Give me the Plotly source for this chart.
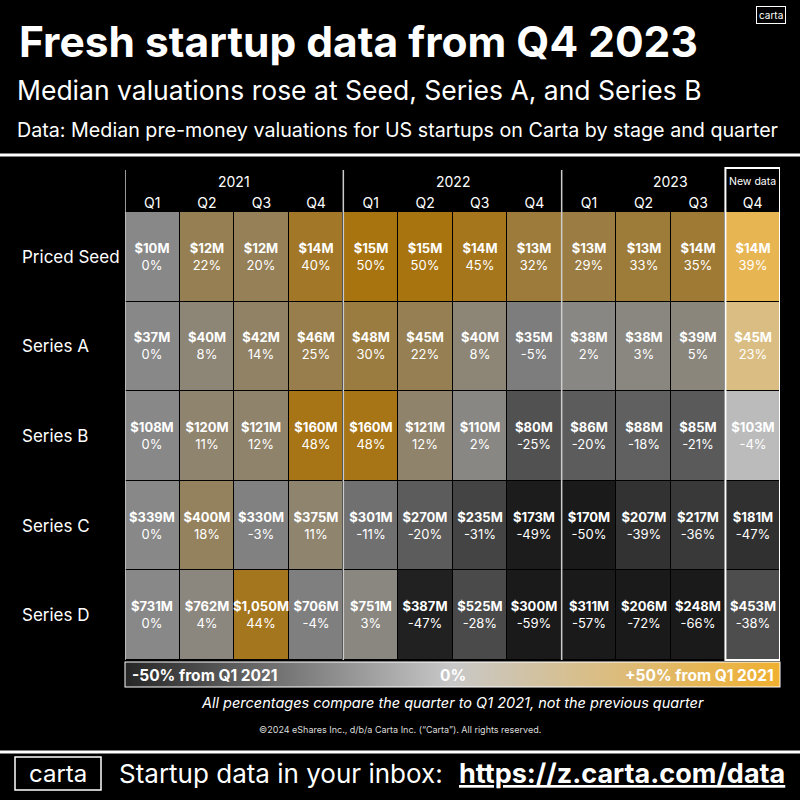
import plotly.graph_objects as go

# data
stages = ["Priced Seed", "Series A", "Series B", "Series C", "Series D"]
quarters = ["Q1", "Q2", "Q3", "Q4"] * 3
years = ["2021", "2022", "2023"]

valuations = [
    ["$10M", "$12M", "$12M", "$14M", "$15M", "$15M", "$14M", "$13M", "$13M", "$13M", "$14M", "$14M"],
    ["$37M", "$40M", "$42M", "$46M", "$48M", "$45M", "$40M", "$35M", "$38M", "$38M", "$39M", "$45M"],
    ["$108M", "$120M", "$121M", "$160M", "$160M", "$121M", "$110M", "$80M", "$86M", "$88M", "$85M", "$103M"],
    ["$339M", "$400M", "$330M", "$375M", "$301M", "$270M", "$235M", "$173M", "$170M", "$207M", "$217M", "$181M"],
    ["$731M", "$762M", "$1,050M", "$706M", "$751M", "$387M", "$525M", "$300M", "$311M", "$206M", "$248M", "$453M"],
]
pct_change = [
    [0, 22, 20, 40, 50, 50, 45, 32, 29, 33, 35, 39],
    [0, 8, 14, 25, 30, 22, 8, -5, 2, 3, 5, 23],
    [0, 11, 12, 48, 48, 12, 2, -25, -20, -18, -21, -4],
    [0, 18, -3, 11, -11, -20, -31, -49, -50, -39, -36, -47],
    [0, 4, 44, -4, 3, -47, -28, -59, -57, -72, -66, -38],
]

FONT = "Inter"
W, H = 800, 800
L, R, T, B = 125, 20, 212, 140
PW, PH = W - L - R, H - T - B


def px(p):
    return (p - L) / PW


def py(p):
    return (H - B - p) / PH


ncol = len(quarters)
cols = list(range(ncol))
rows = list(range(len(stages)))

labels = [[f"<b>{v}</b><br>{p}%" for v, p in zip(vr, pr)] for vr, pr in zip(valuations, pct_change)]

# older quarters use a dimmed scale, the newest quarter a bright one
z_old = [[p if j < ncol - 1 else None for j, p in enumerate(r)] for r in pct_change]
z_new = [[p if j == ncol - 1 else None for j, p in enumerate(r)] for r in pct_change]
t_old = [[t if j < ncol - 1 else "" for j, t in enumerate(r)] for r in labels]
t_new = [[t if j == ncol - 1 else "" for j, t in enumerate(r)] for r in labels]

dim_scale = [[0, "#1a1a1a"], [0.5, "#888888"], [1, "#a87410"]]
bright_scale = [[0, "#262626"], [0.5, "#c8c8c8"], [1, "#f0b030"]]

fig = go.Figure()
fig.add_trace(go.Heatmap(
    z=z_old, x=cols, y=rows, text=t_old, texttemplate="%{text}",
    textfont=dict(family=FONT, size=13, color="white"),
    colorscale=dim_scale, zmin=-50, zmax=50, xgap=1, ygap=1,
    showscale=False, hoverinfo="skip"))
fig.add_trace(go.Heatmap(
    z=z_new, x=cols, y=rows, text=t_new, texttemplate="%{text}",
    textfont=dict(family=FONT, size=13, color="white"),
    colorscale=bright_scale, zmin=-50, zmax=50, xgap=1, ygap=1,
    hoverinfo="skip",
    colorbar=dict(orientation="h", x=0.5, xanchor="center", y=py(662), yanchor="top",
                  yref="paper", len=1, lenmode="fraction", thickness=25, xpad=0, ypad=0,
                  outlinecolor="white", outlinewidth=1, showticklabels=False, ticks="")))

ann = []
# header texts
ann.append(dict(x=px(17), y=py(42), text="<b>Fresh startup data from Q4 2023</b>", xanchor="left",
                font=dict(size=42.5, color="white")))
ann.append(dict(x=px(15), y=py(90), text="Median valuations rose at Seed, Series A, and Series B",
                xanchor="left", font=dict(size=26.5, color="white")))
ann.append(dict(x=px(15), y=py(130),
                text="Data: Median pre-money valuations for US startups on Carta by stage and quarter",
                xanchor="left", font=dict(size=19.7, color="white")))
ann.append(dict(x=px(771), y=py(15), text="carta", font=dict(size=10, color="white"),
                bordercolor="white", borderwidth=1, borderpad=2))

# years over the quarter columns
for k, yr in enumerate(years):
    ann.append(dict(x=k * 4 + 1.5, xref="x", y=py(182), text=yr, font=dict(size=14, color="white")))
ann.append(dict(x=ncol - 1, xref="x", y=py(182), text="New data", font=dict(size=10.5, color="white")))

# stage names on the left
for i, s in enumerate(stages):
    ann.append(dict(x=px(20), y=i, yref="y", text=s, xanchor="left", font=dict(size=17, color="white")))

# colour bar labels
ann.append(dict(x=px(130), y=py(675), text="<b>-50% from Q1 2021</b>", xanchor="left",
                font=dict(size=15.5, color="white")))
ann.append(dict(x=px(453), y=py(675), text="<b>0%</b>", font=dict(size=15.5, color="white")))
ann.append(dict(x=px(776), y=py(675), text="<b>+50% from Q1 2021</b>", xanchor="right",
                font=dict(size=15.5, color="white")))

ann.append(dict(x=px(452), y=py(703),
                text="<i>All percentages compare the quarter to Q1 2021, not the previous quarter</i>",
                font=dict(size=14.5, color="white")))
ann.append(dict(x=px(400), y=py(729),
                text="©2024 eShares Inc., d/b/a Carta Inc. (“Carta”). All rights reserved.",
                font=dict(size=9, color="#dddddd")))

# footer
ann.append(dict(x=px(58), y=py(773), text="carta", font=dict(size=24, color="white")))
ann.append(dict(x=px(117), y=py(773), text="Startup data in your inbox:", xanchor="left",
                font=dict(size=26, color="white")))
ann.append(dict(x=px(787), y=py(773), text="<b><u>https://z.carta.com/data</u></b>", xanchor="right",
                font=dict(size=27, color="white")))

for a in ann:
    a.setdefault("xref", "paper")
    a.setdefault("yref", "paper")
    a.setdefault("xanchor", "center")
    a.setdefault("yanchor", "middle")
    a["showarrow"] = False
    a["font"]["family"] = FONT

shapes = [
    dict(type="line", xref="paper", yref="paper", x0=px(0), x1=px(800), y0=py(155), y1=py(155),
         line=dict(color="white", width=3)),
    dict(type="line", xref="paper", yref="paper", x0=px(0), x1=px(800), y0=py(752), y1=py(752),
         line=dict(color="white", width=3)),
    dict(type="rect", xref="paper", yref="paper", x0=px(15), x1=px(101), y0=py(757), y1=py(790),
         line=dict(color="white", width=1.5)),
]
for xv in [-0.5, 3.5, 7.5]:
    shapes.append(dict(type="line", xref="x", yref="paper", x0=xv, x1=xv, y0=0, y1=py(170),
                       line=dict(color="#cccccc", width=1.5)))
shapes.append(dict(type="rect", xref="x", yref="paper", x0=ncol - 1.5, x1=ncol - 0.5, y0=0, y1=py(168),
                   line=dict(color="white", width=2)))

fig.update_layout(
    width=W, height=H,
    margin=dict(l=L, r=R, t=T, b=B),
    paper_bgcolor="black", plot_bgcolor="black",
    font=dict(family=FONT, color="white"),
    annotations=ann, shapes=shapes,
    xaxis=dict(side="top", tickvals=cols, ticktext=quarters, showgrid=False, zeroline=False,
               ticks="", tickfont=dict(size=14, color="white"), range=[-0.5, ncol - 0.5]),
    yaxis=dict(autorange="reversed", showticklabels=False, showgrid=False, zeroline=False, ticks=""),
)

# page margin off so the 800x800 figure fills the window
fig.write_html("out.html", config={"displayModeBar": False},
               post_script="document.body.style.margin='0';")
